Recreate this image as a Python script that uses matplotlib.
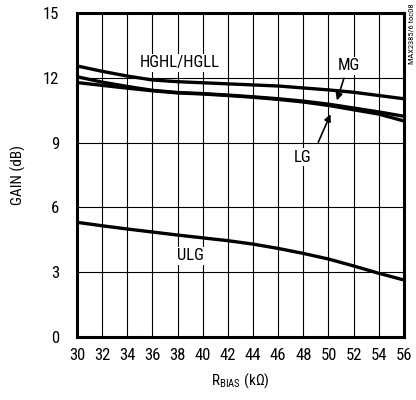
import matplotlib
matplotlib.use('Agg')
import matplotlib.pyplot as plt

plt.rcParams['font.family'] = ['Roboto Condensed', 'DejaVu Sans']
plt.rcParams['mathtext.fontset'] = 'custom'
plt.rcParams['mathtext.rm'] = 'Roboto Condensed'

# data
rbias = [30, 32, 34, 36, 38, 40, 42, 44, 46, 48, 50, 52, 54, 56]
hghl = [12.55, 12.3, 12.08, 11.9, 11.82, 11.77, 11.72, 11.67, 11.62, 11.53, 11.44, 11.33, 11.18, 11.03]
mg = [12.05, 11.8, 11.6, 11.42, 11.32, 11.27, 11.2, 11.12, 11.03, 10.92, 10.78, 10.6, 10.42, 10.22]
lg = [11.78, 11.65, 11.52, 11.4, 11.3, 11.25, 11.18, 11.1, 11.0, 10.88, 10.72, 10.52, 10.32, 10.0]
ulg = [5.31, 5.15, 5.0, 4.86, 4.72, 4.59, 4.46, 4.3, 4.1, 3.87, 3.61, 3.29, 2.95, 2.64]

xticks = list(range(30, 57, 2))
yticks = [0, 3, 6, 9, 12, 15]

fig = plt.figure(figsize=(4.16, 4.0), dpi=100)
ax = fig.add_axes([0.185, 0.1575, 0.786, 0.81])

for y in [hghl, mg, lg, ulg]:
    ax.plot(rbias, y, color='black', lw=2.4, solid_capstyle='butt', zorder=3)

ax.set_xlim(30, 56)
ax.set_ylim(0, 15)
ax.set_xticks(xticks)
ax.set_yticks(yticks)
ax.tick_params(length=0, labelsize=12)
ax.tick_params(axis='x', pad=8)
ax.tick_params(axis='y', pad=13)
ax.grid(True, color='black', lw=0.8)
for s in ax.spines.values():
    s.set_linewidth(2.2)

ax.set_ylabel('GAIN (dB)', fontsize=11, labelpad=12)
ax.set_xlabel(r'R$_{\mathregular{BIAS}}$ (k$\mathregular{\Omega}$)', fontsize=11, labelpad=6)

box = dict(facecolor='white', edgecolor='none', pad=1)
ax.text(38.2, 12.7, 'HGHL/HGLL', fontsize=12, ha='center', va='center', bbox=box, zorder=4)
ax.text(51.6, 12.55, 'MG', fontsize=12, ha='center', va='center', bbox=box, zorder=4)
ax.text(47.9, 8.33, 'LG', fontsize=12, ha='center', va='center', bbox=box, zorder=4)
ax.text(39.0, 3.75, 'ULG', fontsize=12, ha='center', va='center', bbox=box, zorder=4)

ax.annotate('', xy=(50.6, 10.83), xytext=(51.3, 12.1),
            arrowprops=dict(arrowstyle='-|>', color='black', lw=1.2, mutation_scale=10), zorder=5)
ax.annotate('', xy=(50.25, 10.43), xytext=(49.1, 8.9),
            arrowprops=dict(arrowstyle='-|>', color='black', lw=1.2, mutation_scale=10), zorder=5)

fig.text(0.988, 0.915, 'MAX2385/6 toc08', rotation=90, fontsize=6, ha='center', va='center')

fig.savefig('out.png', dpi=100)
